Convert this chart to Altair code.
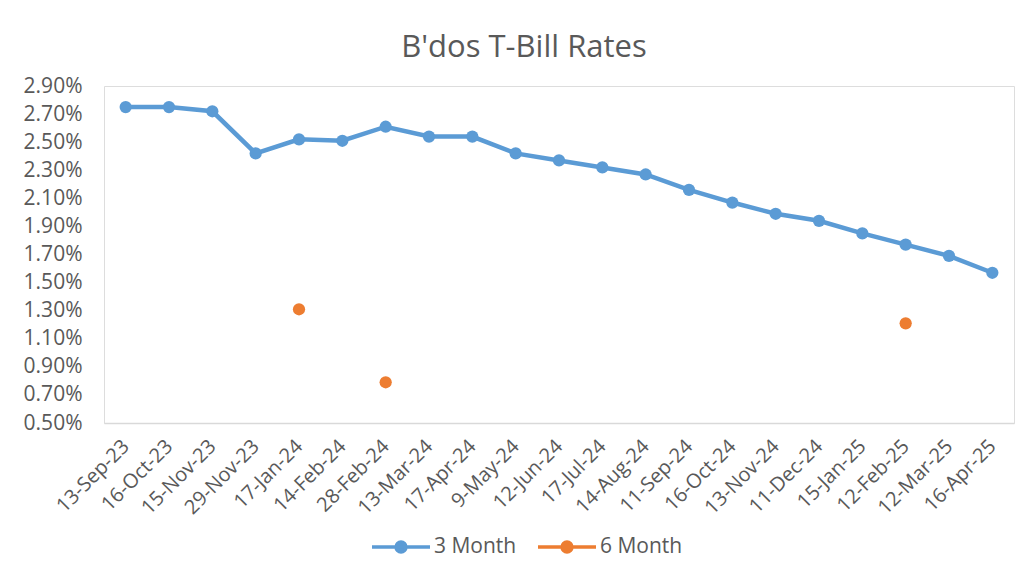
import altair as alt
import pandas as pd

dates = ["13-Sep-23", "16-Oct-23", "15-Nov-23", "29-Nov-23", "17-Jan-24", "14-Feb-24",
         "28-Feb-24", "13-Mar-24", "17-Apr-24", "9-May-24", "12-Jun-24", "17-Jul-24",
         "14-Aug-24", "11-Sep-24", "16-Oct-24", "13-Nov-24", "11-Dec-24", "15-Jan-25",
         "12-Feb-25", "12-Mar-25", "16-Apr-25"]
three_month = [2.75, 2.75, 2.72, 2.42, 2.52, 2.51, 2.61, 2.54, 2.54, 2.42, 2.37, 2.32,
               2.27, 2.16, 2.07, 1.99, 1.94, 1.85, 1.77, 1.69, 1.57]
six_month = [None, None, None, None, 1.31, None, 0.79, None, None, None, None, None,
             None, None, None, None, None, None, 1.21, None, None]
series_names = ["3 Month", "6 Month"]
series_colors = ["#5B9BD5", "#ED7D31"]
y_ticks = [0.5, 0.7, 0.9, 1.1, 1.3, 1.5, 1.7, 1.9, 2.1, 2.3, 2.5, 2.7, 2.9]

rows = []
for d, a, b in zip(dates, three_month, six_month):
    rows.append({"date": d, "series": series_names[0], "rate": a / 100})
    if b is not None:
        rows.append({"date": d, "series": series_names[1], "rate": b / 100})
df = pd.DataFrame(rows)

FONT = "Open Sans"
GREY = "#595959"

x_enc = alt.X("date:N", sort=dates, title=None,
              scale=alt.Scale(type="point", padding=0.5),
              axis=alt.Axis(labelAngle=315, labelAlign="right", labelBaseline="middle",
                            labelPadding=20, ticks=False, domainColor="#D9D9D9",
                            domainWidth=1.5, labelFontSize=20, labelColor=GREY,
                            labelFont=FONT, grid=False, labelOverlap=False))
y_enc = alt.Y("rate:Q", title=None,
              scale=alt.Scale(domain=[0.005, 0.029], nice=False, zero=False),
              axis=alt.Axis(values=[v / 100 for v in y_ticks], format=".2%",
                            domain=False, ticks=False, grid=False, labelPadding=22,
                            labelFontSize=21, labelColor=GREY, labelFont=FONT))

legend_path = "M-1,0H1M0.17,0A0.17,0.17,0,1,1,-0.17,0A0.17,0.17,0,1,1,0.17,0Z"


def make_legend():
    return alt.Legend(title=None, orient="none", direction="horizontal",
                      legendX=266, legendY=430,
                      symbolType=legend_path, symbolSize=3364,
                      symbolStrokeWidth=3.5, symbolOpacity=1, labelFontSize=21,
                      labelFont=FONT, labelColor=GREY, labelOffset=2,
                      columnPadding=14)


color_scale = alt.Scale(domain=series_names, range=series_colors)
stroke_enc = alt.Stroke("series:N", scale=color_scale, legend=make_legend())
fill_enc = alt.Fill("series:N", scale=color_scale, legend=make_legend())

base = alt.Chart(df)
line = base.transform_filter(alt.datum.series == series_names[0]).mark_line(
    strokeWidth=4.5).encode(x=x_enc, y=y_enc, stroke=stroke_enc)
points = base.mark_circle(size=150, opacity=1, strokeWidth=0).encode(
    x=x_enc, y=y_enc, fill=fill_enc, stroke=stroke_enc)

chart = alt.layer(line, points).properties(
    width=910, height=337,
    title=alt.TitleParams("B'dos T-Bill Rates", fontSize=31, font=FONT, color=GREY,
                          fontWeight="normal", anchor="middle", frame="group", dx=-35,
                          baseline="alphabetic", offset=27, dy=40),
    autosize=alt.AutoSizeParams(type="none"),
    padding={"left": 96, "top": 78, "right": 2, "bottom": 140},
).configure_view(stroke=None).configure(background="white")

chart.save("out.html", embed_options={"renderer": "svg", "actions": False})
